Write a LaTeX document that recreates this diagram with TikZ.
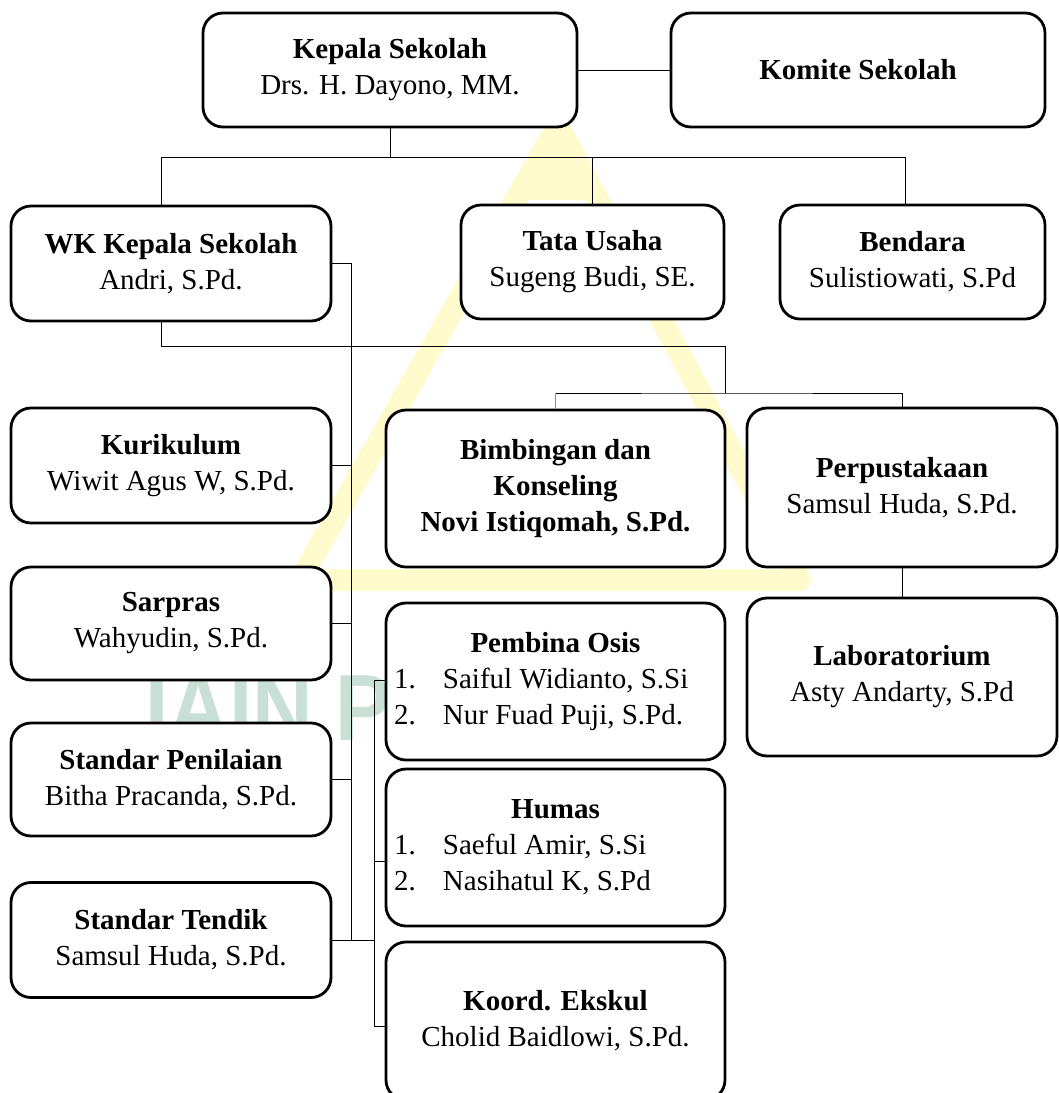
\documentclass[tikz,border=0pt]{standalone}
\usepackage{fontspec}
\usepackage{graphicx}
\setmainfont{Liberation Serif}
\newfontfamily\wmfont{Liberation Sans}

\definecolor{wmyellow}{RGB}{255,251,205}
\definecolor{wmteal}{RGB}{200,224,214}
\definecolor{lineblue}{RGB}{91,155,213}

\tikzset{
  unit/.style={draw, line width=1.4pt, rounded corners=10pt, fill=white, align=center, inner sep=0pt},
  link/.style={line width=0.5pt}
}
\newcommand{\orgitem}[2]{\makebox[169.5pt][l]{\hspace{4pt}\makebox[24.5pt][l]{#1}#2}}

\begin{document}
\begin{tikzpicture}[x=0.5pt,y=-0.5pt,font=\fontsize{14.5}{18}\selectfont]
\clip (0,0) rectangle (1059,1093);
\fill[white] (0,0) rectangle (1059,1093);
\draw[wmyellow, line width=11pt, line join=round] (558,125) -- (300,580) -- (800,580) -- cycle;
\fill[wmyellow] (558,125) -- (520,200) -- (596,200) -- cycle;
\node[anchor=base west, inner sep=0pt, text=wmteal, font=\wmfont\bfseries\fontsize{47}{47}\selectfont] (wm) at (145,740) {\scalebox{0.89}[1]{IAIN P}};

\node[unit, minimum width=187pt, minimum height=57pt] (kepala) at (390,70) {\textbf{Kepala Sekolah}\\Drs. H. Dayono, MM.};
\node[unit, minimum width=187pt, minimum height=57pt] (komite) at (858,70) {\textbf{Komite Sekolah}};
\node[unit, minimum width=160pt, minimum height=57.5pt] (wk) at (171,263.5) {\textbf{WK Kepala Sekolah}\\Andri, S.Pd.};
\node[unit, minimum width=131.5pt, minimum height=57pt] (tata) at (592.5,262) {\textbf{Tata Usaha}\\Sugeng Budi, SE.};
\node[unit, minimum width=132.5pt, minimum height=57pt] (bendara) at (912.5,262) {\textbf{Bendara}\\Sulistiowati, S.Pd};

\node[unit, minimum width=160pt, minimum height=57.5pt] (kurikulum) at (171,465.5) {\textbf{Kurikulum}\\Wiwit Agus W, S.Pd.};
\node[unit, minimum width=160pt, minimum height=56.5pt] (sarpras) at (171,623.5) {\textbf{Sarpras}\\Wahyudin, S.Pd.};
\node[unit, minimum width=160pt, minimum height=56.5pt] (penilaian) at (171,779.5) {\textbf{Standar Penilaian}\\Bitha Pracanda, S.Pd.};
\node[unit, minimum width=160pt, minimum height=57.5pt] (tendik) at (171,940) {\textbf{Standar Tendik}\\Samsul Huda, S.Pd.};

\node[unit, minimum width=169.5pt, minimum height=78.5pt] (bk) at (555.5,488.5) {\textbf{Bimbingan dan}\\\textbf{Konseling}\\\textbf{Novi Istiqomah, S.Pd.}};
\node[unit, minimum width=155pt, minimum height=79.5pt] (perpus) at (902,487.5) {\textbf{Perpustakaan}\\Samsul Huda, S.Pd.};
\node[unit, minimum width=155pt, minimum height=79pt] (lab) at (902,677) {\textbf{Laboratorium}\\Asty Andarty, S.Pd};
\node[unit, minimum width=169.5pt, minimum height=78.5pt] (osis) at (555.5,681.5) {\textbf{Pembina Osis}\\\orgitem{1.}{Saiful Widianto, S.Si}\\\orgitem{2.}{Nur Fuad Puji, S.Pd.}};
\node[unit, minimum width=169.5pt, minimum height=78.5pt] (humas) at (555.5,847.5) {\textbf{Humas}\\\orgitem{1.}{Saeful Amir, S.Si}\\\orgitem{2.}{Nasihatul K, S.Pd}};
\node[unit, minimum width=169.5pt, minimum height=79pt] (ekskul) at (555.5,1021) {\textbf{Koord. Ekskul}\\Cholid Baidlowi, S.Pd.};

\coordinate (busL) at (161,157);
\coordinate (busR) at (905,157);
\draw[link] (kepala) -- (komite);
\draw[link] (kepala.south) -- (kepala.south |- busL);
\draw[link] (wk.north -| busL) |- (busR) -- (bendara.north -| busR);
\draw[link] (tata.north) -- (tata.north |- busL);

\coordinate (elbow) at (725,346);
\coordinate (bkbus) at (725,393);
\draw[link] (wk.south -| busL) |- (elbow) -- (bkbus);
\draw[link] (bk.north |- bkbus) -- (bkbus) -| (perpus.north);
\draw[link, lineblue] (bk.north) -- (bk.north |- bkbus);
\draw[link] (perpus) -- (lab);

\coordinate (spineA) at (351,940);
\coordinate (spineBtop) at (374,680);
\coordinate (spineBbot) at (374,1026);
\coordinate (humasjoin) at (374,861);
\draw[link] (wk.east) -| (spineA) -- (tendik.east);
\foreach \n in {kurikulum,sarpras,penilaian}
  \draw[link] (\n.east) -- (\n.east -| spineA);
\draw[link] (spineA) -- (spineA -| spineBtop);
\draw[link] (osis.west |- spineBtop) -| (spineBbot) -- (spineBbot -| ekskul.west);
\draw[link] (humasjoin) -- (humasjoin -| humas.west);
\end{tikzpicture}
\end{document}
